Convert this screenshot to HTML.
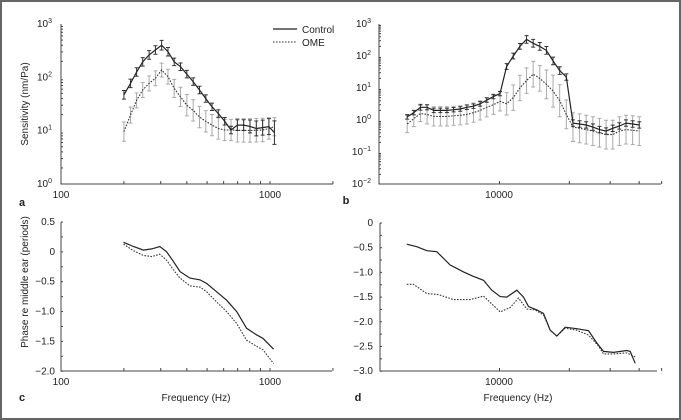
<!DOCTYPE html>
<html><head><meta charset="utf-8">
<style>
html,body{margin:0;padding:0;background:#fff;}
svg{display:block;font-family:"Liberation Sans",sans-serif;}
</style></head>
<body>
<svg id="fig" width="681" height="420" viewBox="0 0 681 420"></svg>
<script>
// ---- Panel a data ----
const aFreq=[200,215,230,246,264,283,303,325,348,373,400,429,460,493,528,566,607,651,698,748,802,860,922,988,1050];
const aCtrl=[47,77,126,195,263,325,400,302,195,158,115,83,58,40,28,21,15,10.3,12.7,12.7,12,11,11.4,11.9,9.2];
const aCtrlErr=[0.08,0.08,0.08,0.08,0.08,0.08,0.09,0.08,0.07,0.07,0.07,0.07,0.07,0.07,0.07,0.07,0.07,0.07,0.1,0.1,0.12,0.14,0.14,0.15,0.22];
const aOme=[9.6,19.6,37,58,77,96,137,103,62,43,30,24,18,15,12.7,11,10.3,10.3,10.2,10.1,10.1,10.2,10.3,11,11.9];
const aOmeErr=[0.18,0.15,0.14,0.14,0.14,0.14,0.13,0.14,0.17,0.18,0.2,0.2,0.2,0.2,0.2,0.2,0.2,0.2,0.22,0.22,0.22,0.22,0.22,0.2,0.17];
// ---- Panel b data ----
const bFreq=[4000,4272,4563,4873,5205,5559,5937,6341,6772,7233,7725,8250,8812,9411,10051,10735,11465,12245,13078,13968,14918,15933,17017,18175,19411,20732,22142,23648,25257,26975,28810,30770,32863,35099,37487,40037];
const bCtrl=[1.25,1.7,2.5,2.5,2.0,2.0,2.0,2.1,2.2,2.5,2.7,3.2,4.2,5.4,6.7,47,100,200,330,250,200,150,70,35,22,0.8,0.75,0.7,0.6,0.5,0.45,0.55,0.65,0.8,0.75,0.7];
const bCtrlErr=[0.07,0.07,0.09,0.08,0.07,0.07,0.07,0.07,0.07,0.07,0.07,0.07,0.07,0.07,0.07,0.09,0.09,0.09,0.12,0.12,0.12,0.12,0.12,0.12,0.1,0.1,0.1,0.1,0.1,0.1,0.1,0.1,0.1,0.1,0.1,0.1];
const bOme=[0.75,1.1,1.6,1.5,1.3,1.3,1.3,1.35,1.4,1.5,1.7,2.0,2.5,3.0,3.8,3.2,5,10,17,27,20,13,8,4,1.5,0.6,0.55,0.5,0.45,0.4,0.35,0.35,0.45,0.5,0.48,0.45];
const bOmeErr=[0.27,0.25,0.25,0.3,0.3,0.3,0.3,0.3,0.3,0.3,0.3,0.3,0.3,0.3,0.3,0.35,0.4,0.4,0.4,0.4,0.4,0.45,0.5,0.5,0.45,0.45,0.45,0.45,0.45,0.45,0.45,0.45,0.45,0.45,0.45,0.45];
// ---- Panel c data ----
const cFreqCtrl=[199,222,248,272,297,320,345,371,414,463,498,556,620,693,773,862,926,1040];
const cCtrl=[0.16,0.09,0.03,0.05,0.09,0.0,-0.16,-0.33,-0.44,-0.47,-0.53,-0.67,-0.81,-1.0,-1.28,-1.39,-1.45,-1.63];
const cFreqOme=[199,222,248,272,297,320,345,371,414,463,498,556,620,693,773,862,926,1040];
const cOme=[0.13,0.02,-0.06,-0.08,-0.04,-0.14,-0.3,-0.44,-0.57,-0.59,-0.67,-0.84,-1.0,-1.2,-1.48,-1.58,-1.64,-1.87];
// ---- Panel d data ----
const dFreqCtrl=[3987,4402,4862,5369,6131,6995,7725,8532,9267,10067,10755,11877,12687,13335,14482,15474,16534,17665,19190,21542,24186,26276,28074,30997,35389,36579,38444];
const dCtrl=[-0.43,-0.48,-0.56,-0.58,-0.85,-0.99,-1.08,-1.16,-1.36,-1.49,-1.5,-1.36,-1.5,-1.69,-1.76,-1.83,-2.17,-2.29,-2.11,-2.14,-2.18,-2.43,-2.6,-2.62,-2.58,-2.6,-2.84];
const dFreqOme=[3987,4258,4862,5459,6333,7470,8532,10067,11117,12076,13113,14244,15474,16534,17665,19190,21542,24186,26718,28074,30997,35389,38444];
const dOme=[-1.24,-1.24,-1.43,-1.45,-1.55,-1.55,-1.48,-1.8,-1.71,-1.52,-1.74,-1.76,-1.86,-2.17,-2.29,-2.13,-2.17,-2.27,-2.49,-2.65,-2.65,-2.63,-2.71];

const NS="http://www.w3.org/2000/svg";
const svg=document.getElementById('fig');
function mk(tag,attrs,parent){const e=document.createElementNS(NS,tag);for(const k in attrs)e.setAttribute(k,attrs[k]);(parent||svg).appendChild(e);return e;}
function txt(x,y,s,anchor,size,parent){const t=mk('text',{x:x,y:y,'font-size':size||10,'text-anchor':anchor||'middle',fill:'#222'},parent);t.textContent=s;return t;}

// border
const border=mk('rect',{x:1,y:1,width:679,height:418,fill:'none',stroke:'#666','stroke-width':2});



// axis functions
const ax={
 a:{x:f=>61+209*Math.log10(f/100), y:v=>184-53.33*Math.log10(v)},
 b:{x:f=>499.5+232*Math.log10(f/10000), y:v=>184-32*(Math.log10(v)+2)},
 c:{x:f=>61+209*Math.log10(f/100), y:v=>222+(0.5-v)*59.7},
 d:{x:f=>499.5+232*Math.log10(f/10000), y:v=>223-v*49.4}
};

function line(g,xs,ys,fx,fy,dashed,name){
 const d=xs.map((f,i)=>(i?'L':'M')+fx(f).toFixed(1)+','+fy(ys[i]).toFixed(1)).join('');
 const p=mk('path',{d:d,fill:'none',stroke:dashed?'#333':'#222','stroke-width':dashed?1.1:1.2,'stroke-dasharray':dashed?'1.6,1.4':'none'},g);
 
 
}
function errs(g,xs,ys,es,fx,fy,col,name){
 xs.forEach((f,i)=>{
  const x=fx(f),lv=Math.log10(ys[i]);
  const y1=fy(Math.pow(10,lv+es[i])),y2=fy(Math.pow(10,lv-es[i]));
  const e=mk('path',{d:`M${x},${y1}V${y2}M${x-2},${y1}H${x+2}M${x-2},${y2}H${x+2}`,stroke:col,'stroke-width':1,fill:'none'},g);
  
  
 });
}

// ===== Panel a =====
const ga=mk('g',{});


mk('path',{d:'M61,24V184H333',stroke:'#444',fill:'none','stroke-width':1},ga);
[200,300,400,500,600,700,800,900,1000,2000].forEach(f=>mk('line',{x1:ax.a.x(f),x2:ax.a.x(f),y1:184,y2:181,stroke:'#444'},ga));
for(let dcd=0;dcd<3;dcd++)for(let m=2;m<=9;m++){const y=ax.a.y(m*Math.pow(10,dcd));mk('line',{x1:61,x2:63,y1:y,y2:y,stroke:'#444'},ga);}
[1,10,100,1000].forEach((v,i)=>{const t=txt(52,ax.a.y(v)+3,'10','end',10,ga);const s=mk('tspan',{dy:-4,'font-size':7},t);s.textContent=i;});
txt(61,198,'100','middle',10,ga);txt(270,198,'1000','middle',10,ga);
txt(22,206,'a','middle',11,ga).setAttribute('font-weight','bold');
const yla=txt(0,0,'Sensitivity (nm/Pa)','middle',10,ga);yla.setAttribute('transform','translate(28,104) rotate(-90)');


errs(ga,aFreq,aOme,aOmeErr,ax.a.x,ax.a.y,'#aaa','error-bar-ome');
errs(ga,aFreq,aCtrl,aCtrlErr,ax.a.x,ax.a.y,'#333','error-bar-control');
line(ga,aFreq,aOme,ax.a.x,ax.a.y,true,'ome-line-a');
line(ga,aFreq,aCtrl,ax.a.x,ax.a.y,false,'control-line-a');
// legend
const lg=mk('g',{},ga);


mk('line',{x1:273,x2:297,y1:29,y2:29,stroke:'#222','stroke-width':1.2},lg);
mk('line',{x1:273,x2:297,y1:42,y2:42,stroke:'#333','stroke-width':1.1,'stroke-dasharray':'1.6,1.4'},lg);
txt(302,33,'Control','start',10,lg);txt(302,46,'OME','start',10,lg);

// ===== Panel b =====
const gb=mk('g',{});


mk('path',{d:'M379,24V184H661',stroke:'#444',fill:'none','stroke-width':1},gb);
[10000,20000,30000,40000,50000].forEach(f=>mk('line',{x1:ax.b.x(f),x2:ax.b.x(f),y1:184,y2:181,stroke:'#444'},gb));
for(let dcd=-2;dcd<3;dcd++)for(let m=2;m<=9;m++){const y=ax.b.y(m*Math.pow(10,dcd));mk('line',{x1:379,x2:381,y1:y,y2:y,stroke:'#444'},gb);}
[-2,-1,0,1,2,3].forEach(e=>{const t=txt(371,ax.b.y(Math.pow(10,e))+3,'10','end',10,gb);const s=mk('tspan',{dy:-4,'font-size':7},t);s.textContent=e<0?'\u2212'+(-e):e;});
txt(499,198,'10000','middle',10,gb);
txt(346,204,'b','middle',11,gb).setAttribute('font-weight','bold');
errs(gb,bFreq,bOme,bOmeErr,ax.b.x,ax.b.y,'#aaa','error-bar-ome');
errs(gb,bFreq,bCtrl,bCtrlErr,ax.b.x,ax.b.y,'#333','error-bar-control');
line(gb,bFreq,bOme,ax.b.x,ax.b.y,true,'ome-line-b');
line(gb,bFreq,bCtrl,ax.b.x,ax.b.y,false,'control-line-b');

// ===== Panel c =====
const gc=mk('g',{});


mk('path',{d:'M61,222V371H332',stroke:'#444',fill:'none','stroke-width':1},gc);
[200,300,400,500,600,700,800,900,1000,2000].forEach(f=>mk('line',{x1:ax.c.x(f),x2:ax.c.x(f),y1:371,y2:368,stroke:'#444'},gc));
for(let v=0.5;v>=-2.001;v-=0.25){const y=ax.c.y(v);mk('line',{x1:61,x2:63,y1:y,y2:y,stroke:'#444'},gc);}
['0.5','0','\u22120.5','\u22121.0','\u22121.5','\u22122.0'].forEach((s,i)=>txt(55,ax.c.y(0.5-i*0.5)+3,s,'end',10,gc));
txt(61,385,'100','middle',10,gc);txt(270,385,'1000','middle',10,gc);
txt(22,401,'c','middle',11,gc).setAttribute('font-weight','bold');
const xlc=txt(196,401,'Frequency (Hz)','middle',10,gc);


const ylc=txt(0,0,'Phase re middle ear (periods)','middle',10,gc);ylc.setAttribute('transform','translate(28,282) rotate(-90)');


line(gc,cFreqOme,cOme,ax.c.x,ax.c.y,true,'ome-line-c');
line(gc,cFreqCtrl,cCtrl,ax.c.x,ax.c.y,false,'control-line-c');

// ===== Panel d =====
const gd=mk('g',{});


mk('path',{d:'M380,223V371H657',stroke:'#444',fill:'none','stroke-width':1},gd);
[10000,20000,30000,40000,50000].forEach(f=>mk('line',{x1:ax.d.x(f),x2:ax.d.x(f),y1:371,y2:368,stroke:'#444'},gd));
for(let v=0;v>=-3.001;v-=0.25){const y=ax.d.y(v);mk('line',{x1:380,x2:382,y1:y,y2:y,stroke:'#444'},gd);}
['0','\u22120.5','\u22121.0','\u22121.5','\u22122.0','\u22122.5','\u22123.0'].forEach((s,i)=>txt(373,ax.d.y(-i*0.5)+3,s,'end',10,gd));
txt(499,385,'10000','middle',10,gd);
txt(358,401,'d','middle',11,gd).setAttribute('font-weight','bold');
const xld=txt(518,401,'Frequency (Hz)','middle',10,gd);


line(gd,dFreqOme,dOme,ax.d.x,ax.d.y,true,'ome-line-d');
line(gd,dFreqCtrl,dCtrl,ax.d.x,ax.d.y,false,'control-line-d');
</script>
</body></html>
